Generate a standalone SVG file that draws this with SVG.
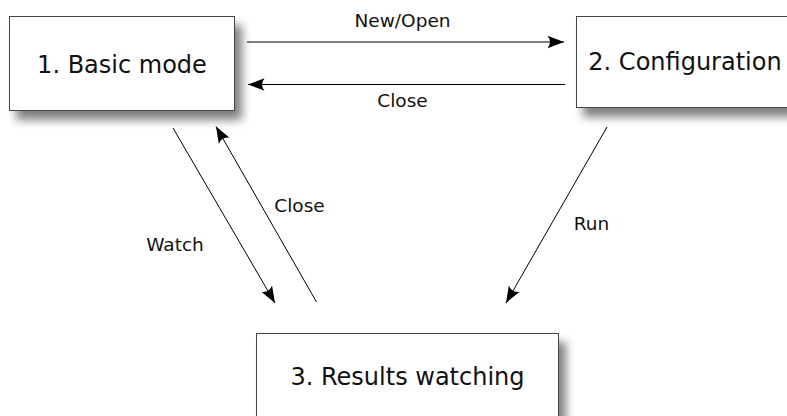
<svg xmlns="http://www.w3.org/2000/svg" width="787" height="416" viewBox="0 0 787 416">
  <defs>
    <filter id="shadow" x="-20%" y="-30%" width="150%" height="180%">
      <feGaussianBlur in="SourceAlpha" stdDeviation="5"/>
      <feOffset dx="7" dy="9" result="blur"/>
      <feComponentTransfer><feFuncA type="linear" slope="0.5"/></feComponentTransfer>
      <feMerge><feMergeNode/><feMergeNode in="SourceGraphic"/></feMerge>
    </filter>
    <marker id="arrow" markerUnits="userSpaceOnUse" markerWidth="22" markerHeight="16" viewBox="-18 -8 19 16" refX="0" refY="0" orient="auto">
      <path d="M0,0 L-16.5,-6.2 Q-11.5,0 -16.5,6.2 Z" fill="#000"/>
    </marker>
    <style>
      .box { fill: #fff; stroke: #444; stroke-width: 1; }
      .node-text { font-family: "DejaVu Sans", sans-serif; font-size: 24px; fill: #111; text-anchor: middle; }
      .label { font-family: "DejaVu Sans", sans-serif; font-size: 18.5px; fill: #111; text-anchor: middle; }
      .edge { stroke: #000; stroke-width: 1; fill: none; marker-end: url(#arrow); }
    </style>
  </defs>

  <rect width="787" height="416" fill="#fff"/>

  <g id="node-basic">
    <rect class="box" x="9.5" y="16.5" width="225" height="94" filter="url(#shadow)"/>
    <text class="node-text" x="122" y="73">1. Basic mode</text>
  </g>

  <g id="node-configuration">
    <rect class="box" x="576.5" y="16.5" width="230" height="91" filter="url(#shadow)"/>
    <text class="node-text" x="685" y="70">2. Configuration</text>
  </g>

  <g id="node-results">
    <rect class="box" x="256.5" y="333.5" width="302" height="100" filter="url(#shadow)"/>
    <text class="node-text" x="407.5" y="385">3. Results watching</text>
  </g>

  <g id="connectors">
    <line class="edge" x1="247" y1="42" x2="564" y2="42"/>
    <text class="label" x="402.5" y="27">New/Open</text>

    <line class="edge" x1="565" y1="84.5" x2="248" y2="84.5"/>
    <text class="label" x="402.5" y="107">Close</text>

    <line class="edge" x1="173" y1="128" x2="275" y2="303"/>
    <text class="label" x="175" y="251">Watch</text>

    <line class="edge" x1="316.5" y1="302" x2="216" y2="126.5"/>
    <text class="label" x="299.5" y="212">Close</text>

    <line class="edge" x1="607" y1="127" x2="506" y2="303"/>
    <text class="label" x="591.5" y="230">Run</text>
  </g>
</svg>
